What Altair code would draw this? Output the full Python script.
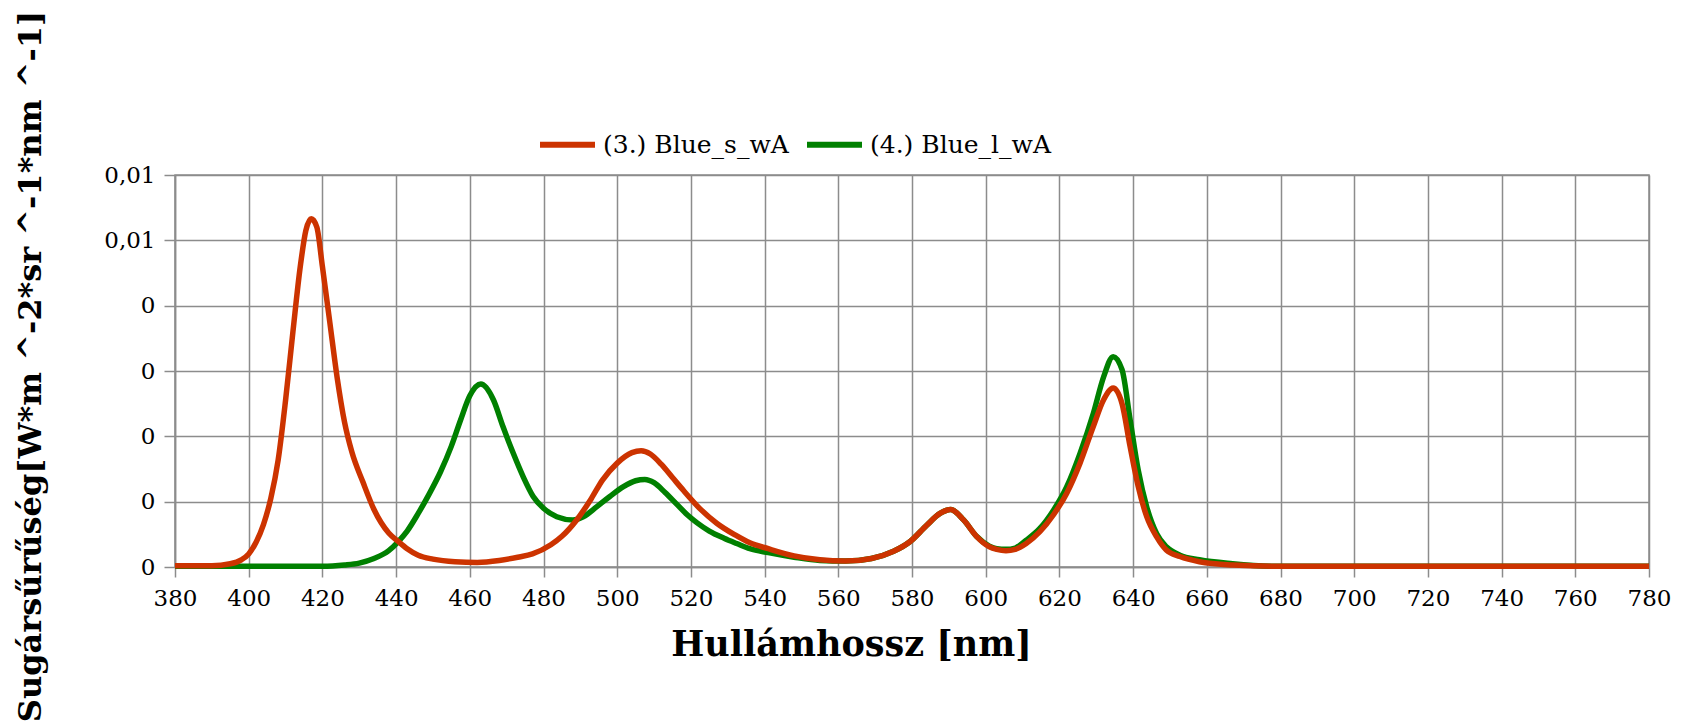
import altair as alt
import pandas as pd

# Spectral radiance of the two blue sources (W m^-2 sr^-1 nm^-1)
wl_s = [380, 385, 390, 395, 398, 400, 402, 404, 406, 408, 410, 412, 414, 415.5, 417,
        418.5, 420, 422, 424, 426, 428, 431, 434, 438, 440.6, 443, 446, 450, 456, 462,
        468, 473, 477, 482, 485, 489, 493, 496, 500, 504, 506.5, 509, 512, 515, 518, 522.5,
        527, 532, 536, 541, 548, 555, 562, 569, 575, 579.5, 584, 587.6, 590.5, 594,
        597.5, 601, 603, 605.5, 608, 611, 614.7, 618.4, 622, 625.6, 629.2, 632, 634.6, 637,
        639.2, 641.4, 643.7, 646.4, 649, 652.7, 658, 667, 680, 700, 740, 780]
val_s = [0.00002, 0.00002, 0.00002, 0.00005, 0.00011, 0.00020, 0.00038, 0.00065, 0.00105,
         0.00164, 0.00255, 0.00360, 0.00460, 0.00515, 0.00533, 0.00520, 0.00460, 0.00375,
         0.00290, 0.00222, 0.00176, 0.00130, 0.00088, 0.00052, 0.00039, 0.00028, 0.00018,
         0.00012, 0.00008, 0.00007, 0.00010, 0.00015, 0.00020, 0.00034, 0.00047, 0.00072,
         0.00105, 0.00133, 0.00159, 0.00175, 0.00178, 0.00173, 0.00157, 0.00137, 0.00117,
         0.00089, 0.00067, 0.00049, 0.00037, 0.00028, 0.00017, 0.00011, 0.00009, 0.00013,
         0.00024, 0.00039, 0.00064, 0.00082, 0.00088, 0.00072, 0.00047, 0.00031, 0.00027,
         0.00025, 0.00027, 0.00036, 0.00054, 0.00080, 0.00113, 0.00159, 0.00215, 0.00256,
         0.00274, 0.00250, 0.00184, 0.00123, 0.00077, 0.00046, 0.00026, 0.00016, 0.00008,
         0.00003, 0.00001, 0.00001, 0.00001, 0.00001]

wl_l = [380, 400, 420, 426, 430, 434, 438, 440.6, 443, 446, 449, 452, 455, 457.5, 460, 463,
        466.4, 469, 471.8, 474.5, 477.2, 480, 483.6, 488, 490.8, 494.4, 498, 501.7, 505,
        507.5, 510, 513, 516, 519, 521.6, 525, 529, 532.4, 536, 541, 548, 555, 562, 569,
        575, 579.5, 584, 587.6, 590.5, 594, 597.5, 601, 603, 605.5, 608, 611, 614.7, 618.4,
        622, 625.6, 629.2, 632, 634.6, 637, 639.2, 641.4, 643.7, 646.4, 649, 652.7, 658,
        667, 680, 700, 740, 780]
val_l = [0.00001, 0.00001, 0.00001, 0.00003, 0.00006, 0.00013, 0.00025, 0.00039, 0.00055,
         0.00082, 0.00112, 0.00145, 0.00185, 0.00225, 0.00262, 0.00280, 0.00256, 0.00215,
         0.00174, 0.00138, 0.00108, 0.00090, 0.00077, 0.00072, 0.00077, 0.00092, 0.00108,
         0.00123, 0.00132, 0.00134, 0.00129, 0.00114, 0.00097, 0.00080, 0.00068, 0.00055,
         0.00044, 0.00036, 0.00028, 0.00022, 0.00015, 0.00010, 0.00009, 0.00013, 0.00024,
         0.00039, 0.00064, 0.00082, 0.00088, 0.00072, 0.00047, 0.00032, 0.00028, 0.00027,
         0.00029, 0.00041, 0.00059, 0.00087, 0.00123, 0.00174, 0.00235, 0.00291, 0.00322,
         0.00302, 0.00225, 0.00148, 0.00092, 0.00051, 0.00031, 0.00018, 0.00011, 0.00005,
         0.00001, 0.00001, 0.00001, 0.00001]

series_names = ["(3.) Blue_s_wA", "(4.) Blue_l_wA"]
series_colors = ["#CC3300", "#008000"]

x_ticks = list(range(380, 781, 20))
y_ticks = [0, 0.001, 0.002, 0.003, 0.004, 0.005, 0.006]
y_tick_labels = ["0", "0", "0", "0", "0", "0,01", "0,01"]

df = pd.concat([
    pd.DataFrame({"wl": wl_s, "val": val_s, "series": series_names[0]}),
    pd.DataFrame({"wl": wl_l, "val": val_l, "series": series_names[1]}),
])

# label expression mapping each tick value to its printed text
label_expr = "''"
for v, t in zip(reversed(y_ticks), reversed(y_tick_labels)):
    label_expr = f"abs(datum.value - {v}) < 0.00001 ? '{t}' : ({label_expr})"

FONT = "DejaVu Serif"
GRID = "#8c8c8c"

x_enc = alt.X(
    "wl:Q",
    scale=alt.Scale(domain=[380, 780], nice=False),
    axis=alt.Axis(
        values=x_ticks, title="Hullámhossz [nm]", format="d",
        titleFont=FONT, titleFontSize=35, titleFontWeight="bold", titleColor="black",
        titleX=676, titleY=88, titleBaseline="alphabetic", titleAnchor="middle",
        labelFont=FONT, labelFontSize=23, labelColor="black", labelPadding=10,
        tickSize=10, tickColor=GRID, tickWidth=1.5, domainColor=GRID, domainWidth=1.5,
        gridColor=GRID, gridWidth=1.5, labelFlush=False,
    ),
)
y_enc = alt.Y(
    "val:Q",
    scale=alt.Scale(domain=[0, 0.006], nice=False),
    axis=alt.Axis(
        values=y_ticks, labelExpr=label_expr,
        title="Sugársűrűség[W*m ^-2*sr ^-1*nm ^-1]",
        titleFont=FONT, titleFontSize=32, titleFontWeight="bold", titleColor="black",
        titleX=-135, titleY=191, titleBaseline="alphabetic", titleAngle=270,
        titleAlign="center", titleLimit=0,
        labelFont=FONT, labelFontSize=23, labelColor="black", labelPadding=9,
        tickSize=11, tickColor=GRID, tickWidth=1.5, domainColor=GRID, domainWidth=1.5,
        gridColor=GRID, gridWidth=1.5,
    ),
)
color_enc = alt.Color(
    "series:N",
    scale=alt.Scale(domain=series_names, range=series_colors),
    legend=alt.Legend(
        title=None, orient="none", direction="horizontal",
        legendX=362, legendY=-61,
        symbolType="stroke", symbolSize=3025, symbolStrokeWidth=6,
        labelFont=FONT, labelFontSize=25, labelColor="black", labelOffset=5,
        labelLimit=0, columnPadding=6,
    ),
)

base = alt.Chart(df)
green = base.transform_filter(alt.datum.series == series_names[1]).mark_line(
    strokeWidth=5.5, interpolate="monotone"
).encode(x=x_enc, y=y_enc, color=color_enc)
red = base.transform_filter(alt.datum.series == series_names[0]).mark_line(
    strokeWidth=5.5, interpolate="monotone"
).encode(x=x_enc, y=y_enc, color=color_enc)

chart = alt.layer(green, red).properties(
    width=1474, height=392,
    autosize=alt.AutoSizeParams(type="none"),
    padding={"left": 175, "top": 175, "right": 40, "bottom": 161},
    background="white",
).configure_view(stroke=GRID, strokeWidth=1.5)

chart.save("out.html", embed_options={"renderer": "svg", "actions": False})
